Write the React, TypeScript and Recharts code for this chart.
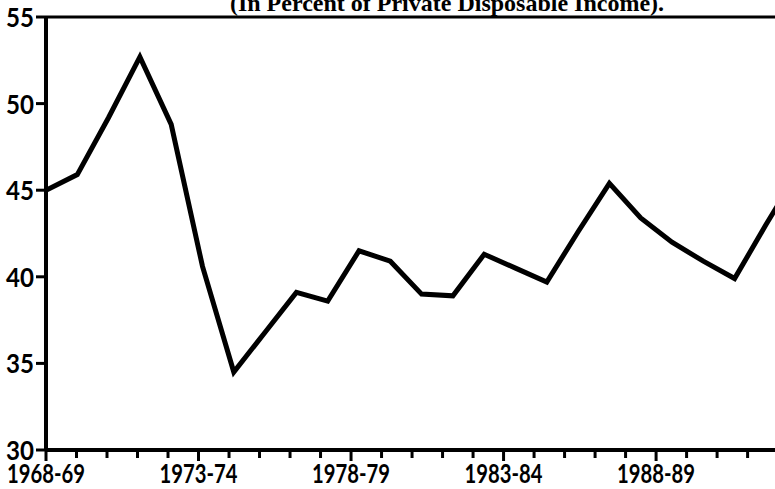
import React from "react";
import { LineChart, Line, XAxis, YAxis, ReferenceLine } from "recharts";

const years = [
  "1968-69", "1969-70", "1970-71", "1971-72", "1972-73", "1973-74", "1974-75",
  "1975-76", "1976-77", "1977-78", "1978-79", "1979-80", "1980-81", "1981-82",
  "1982-83", "1983-84", "1984-85", "1985-86", "1986-87", "1987-88", "1988-89",
  "1989-90", "1990-91", "1991-92", "1992-93",
];
const savingRate = [
  45.0, 45.9, 49.2, 52.7, 48.8, 40.6, 34.5, 36.8, 39.1, 38.6, 41.5, 40.9, 39.0,
  38.9, 41.3, 40.5, 39.7, 42.6, 45.4, 43.4, 42.0, 40.9, 39.9, 43.0, 46.0,
];
const tickLabels = ["1968-69", "1973-74", "1978-79", "1983-84", "1988-89"];
const yTicks = [30, 35, 40, 45, 50, 55];
const titleText = "(In Percent of Private Disposable Income).";

const data = years.map((year, i) => ({ idx: i, year, value: savingRate[i] }));
const tickIdx = years.map((_, i) => i).slice(0, 24);

const FONT = "Lato, 'DejaVu Sans', sans-serif";

function XTick(props: any) {
  const { x, y, payload } = props;
  const label = years[payload.value];
  const major = tickLabels.includes(label);
  return (
    <g>
      <line x1={x} x2={x} y1={y} y2={y + (major ? 11 : 8)} stroke="#000" strokeWidth={3} />
      {major && (
        <text
          x={x}
          y={y + 33}
          textAnchor="middle"
          fontFamily={FONT}
          fontWeight={700}
          fontSize={26}
          textLength={78}
          lengthAdjust="spacingAndGlyphs"
          fill="#000"
        >
          {label}
        </text>
      )}
    </g>
  );
}

function YTick(props: any) {
  const { x, y, payload } = props;
  return (
    <text
      x={x}
      y={y + 10}
      textAnchor="end"
      fontFamily={FONT}
      fontWeight={700}
      fontSize={27}
      textLength={28}
      lengthAdjust="spacingAndGlyphs"
      fill="#000"
    >
      {payload.value}
    </text>
  );
}

export default function App() {
  return (
    <div
      style={{
        position: "fixed",
        left: 0,
        top: 0,
        width: 775,
        height: 489,
        overflow: "hidden",
        background: "#fff",
      }}
    >
      <LineChart
        width={800}
        height={489}
        data={data}
        margin={{ top: 17, right: 10, left: 0, bottom: 0 }}
      >
        <XAxis
          xAxisId="data"
          type="number"
          dataKey="idx"
          domain={[0, 23.77]}
          allowDataOverflow
          orientation="top"
          height={0}
          hide
        />
        <XAxis
          xAxisId="ticks"
          type="number"
          dataKey="idx"
          domain={[0, 24.39]}
          ticks={tickIdx}
          allowDataOverflow
          interval={0}
          height={39}
          tickSize={0}
          tickMargin={0}
          tickLine={false}
          axisLine={{ stroke: "#000", strokeWidth: 4 }}
          tick={<XTick />}
        />
        <YAxis
          domain={[30, 55]}
          ticks={yTicks}
          width={46}
          tickSize={10}
          tickMargin={2}
          interval={0}
          axisLine={{ stroke: "#000", strokeWidth: 4 }}
          tickLine={{ stroke: "#000", strokeWidth: 3 }}
          tick={<YTick />}
        />
        <ReferenceLine xAxisId="ticks" y={55} stroke="#000" strokeWidth={3} />
        <Line
          xAxisId="data"
          type="linear"
          dataKey="value"
          stroke="#000"
          strokeWidth={5}
          strokeLinejoin="miter"
          dot={false}
          activeDot={false}
          isAnimationActive={false}
        />
      </LineChart>
      <div
        style={{
          position: "absolute",
          left: 147,
          width: 600,
          top: -9,
          textAlign: "center",
          fontFamily: "'Liberation Serif', serif",
          fontWeight: 700,
          fontSize: 24,
          lineHeight: "24px",
          whiteSpace: "nowrap",
          color: "#000",
        }}
      >
        {titleText}
      </div>
    </div>
  );
}
